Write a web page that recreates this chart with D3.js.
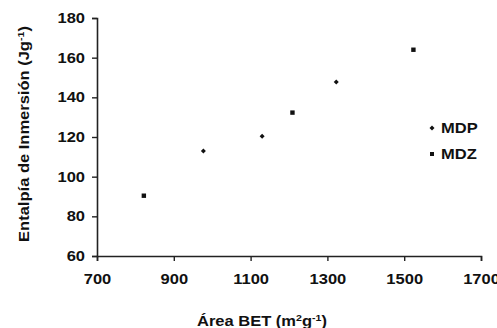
<!DOCTYPE html>
<html>
<head>
<meta charset="utf-8">
<script src="https://cdn.jsdelivr.net/npm/d3@7"></script>
<style>
  body { margin: 0; background: #fff; }
  svg text { font-family: "Liberation Sans", Arial, sans-serif; font-weight: bold; fill: #111; }
</style>
</head>
<body>
<div id="chart"></div>
<script>
// data
var mdpX = [977, 1130, 1323];
var mdpY = [112.9, 120.4, 147.7];
var mdzX = [822, 1209, 1524];
var mdzY = [90.4, 132.3, 164];
var xTicks = [700, 900, 1100, 1300, 1500, 1700];
var yTicks = [60, 80, 100, 120, 140, 160, 180];

var sx = 1.18; // the text in the original looks stretched sideways

var svg = d3.select("#chart").append("svg")
    .attr("width", 497)
    .attr("height", 328),
    width = +svg.attr("width"),
    height = +svg.attr("height");

var x = d3.scaleLinear().domain([700, 1700]).range([97, 481]);
var y = d3.scaleLinear().domain([60, 180]).range([256, 18]);

// y axis
svg.append("g")
  .attr("transform", "translate(97,0)")
  .call(d3.axisLeft(y).tickValues(yTicks).tickSize(5).tickPadding(6).tickFormat(d3.format("d")))
  .call(function(g) {
    g.select(".domain").attr("stroke", "#222").attr("stroke-width", 1.6);
    g.selectAll(".tick line").attr("stroke", "#222").attr("stroke-width", 1.4);
    g.selectAll(".tick text")
      .style("font-size", "14px")
      .attr("fill", "#111")
      .attr("x", -12 / sx)
      .attr("transform", "scale(" + sx + ",1)");
  });

// x axis
svg.append("g")
  .attr("transform", "translate(0,256)")
  .call(d3.axisBottom(x).tickValues(xTicks).tickSize(5).tickPadding(13).tickFormat(d3.format("d")))
  .call(function(g) {
    g.select(".domain").attr("stroke", "#222").attr("stroke-width", 1.6);
    g.selectAll(".tick line").attr("stroke", "#222").attr("stroke-width", 1.4);
    g.selectAll(".tick text")
      .style("font-size", "14px")
      .attr("fill", "#111")
      .attr("transform", "scale(" + sx + ",1)");
  });

// MDP - small diamonds
svg.selectAll(".mdp")
  .data(mdpX)
  .enter()
  .append("path")
  .attr("class", "mdp")
  .attr("d", d3.symbol().type(d3.symbolDiamond2).size(16))
  .attr("transform", function(d, i) { return "translate(" + x(d) + "," + y(mdpY[i]) + ")"; })
  .attr("fill", "#111");

// MDZ - small squares
svg.selectAll(".mdz")
  .data(mdzX)
  .enter()
  .append("rect")
  .attr("class", "mdz")
  .attr("x", function(d) { return x(d) - 2.2; })
  .attr("y", function(d, i) { return y(mdzY[i]) - 2.2; })
  .attr("width", 4.4)
  .attr("height", 4.4)
  .attr("fill", "#111");

// legend
var legend = svg.append("g").attr("transform", "translate(432,128)");
legend.append("path")
  .attr("d", d3.symbol().type(d3.symbolDiamond2).size(16))
  .attr("fill", "#111");
legend.append("text").attr("transform", "translate(9,5) scale(" + sx + ",1)").style("font-size", "14px").text("MDP");
legend.append("rect").attr("x", -2).attr("y", 24).attr("width", 4).attr("height", 4).attr("fill", "#111");
legend.append("text").attr("transform", "translate(9,31) scale(" + sx + ",1)").style("font-size", "14px").text("MDZ");

// axis titles
var xt = svg.append("text")
  .attr("transform", "translate(262,326) scale(" + sx + ",1)")
  .attr("text-anchor", "middle")
  .style("font-size", "14px");
xt.append("tspan").text("Área BET (m");
xt.append("tspan").attr("dy", -5).style("font-size", "9px").text("2");
xt.append("tspan").attr("dy", 5).text("g");
xt.append("tspan").attr("dy", -5).style("font-size", "9px").text("-1");
xt.append("tspan").attr("dy", 5).text(")");

var yt = svg.append("text")
  .attr("transform", "translate(29,134) rotate(-90) scale(" + sx + ",1)")
  .attr("text-anchor", "middle")
  .style("font-size", "14px");
yt.append("tspan").text("Entalpía de Inmersión (Jg");
yt.append("tspan").attr("dy", -5).style("font-size", "9px").text("-1");
yt.append("tspan").attr("dy", 5).text(")");
</script>
</body>
</html>
